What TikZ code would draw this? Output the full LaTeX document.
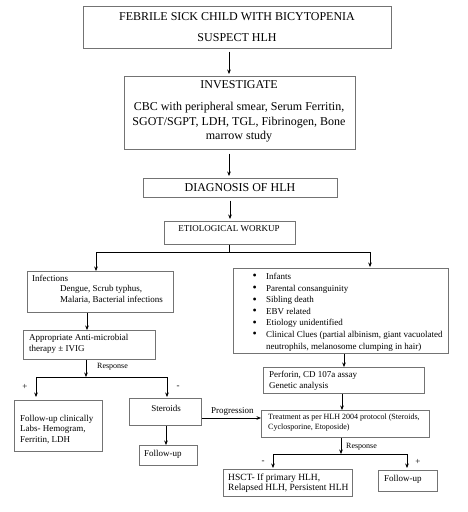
\documentclass[tikz,border=0pt]{standalone}
\usepackage{fontspec}
\setmainfont{Liberation Serif}
\usetikzlibrary{arrows.meta}
\newcommand{\blt}{\makebox[13.5pt][l]{\fontsize{12}{10}\selectfont\raisebox{-0.5pt}{\textbullet}}}
\begin{document}
\begin{tikzpicture}[x=1pt,y=-1pt,
 box/.style={draw=black!55, line width=0.7pt, inner sep=0pt, anchor=north west},
 arr/.style={-{Stealth[length=4.5pt,width=3.6pt]}, line width=0.65pt},
 ln/.style={line width=0.65pt},
 txt/.style={inner sep=0pt, anchor=west, align=left, font=\fontsize{9}{10.5}\selectfont},
 ctxt/.style={inner sep=0pt, anchor=center, align=center, font=\fontsize{9}{10.5}\selectfont},
 big/.style={inner sep=0pt, anchor=center, align=center, font=\fontsize{12}{14.5}\selectfont},
 small/.style={inner sep=0pt, anchor=west, align=left, font=\fontsize{8}{10}\selectfont}]
\useasboundingbox (0,0) rectangle (467,512);
% boxes
\node[box, minimum width=308pt, minimum height=42pt] (b1) at (83,6) {};
\node[box, minimum width=231pt, minimum height=73pt] (b2) at (124,76) {};
\node[box, minimum width=194pt, minimum height=19pt] (b3) at (143,178) {};
\node[box, minimum width=131pt, minimum height=23pt] (b4) at (164,221) {};
\node[box, minimum width=146pt, minimum height=41pt] (inf) at (27,271) {};
\node[box, minimum width=132pt, minimum height=29pt] (anti) at (23,330) {};
\node[box, minimum width=88pt, minimum height=51pt] (fuc) at (14,400) {};
\node[box, minimum width=72pt, minimum height=27pt] (st) at (129,398) {};
\node[box, minimum width=58pt, minimum height=20pt] (fua) at (139,445) {};
\node[box, minimum width=215pt, minimum height=85pt] (rb) at (233,268) {};
\node[box, minimum width=161pt, minimum height=26pt] (pf) at (263,367) {};
\node[box, minimum width=168pt, minimum height=27pt] (tr) at (261,410) {};
\node[box, minimum width=129pt, minimum height=27pt] (hs) at (223,469) {};
\node[box, minimum width=59pt, minimum height=21pt] (fub) at (378,470) {};
% texts
\node[big, font=\fontsize{12}{21}\selectfont] (t1) at (237,27.5) {FEBRILE SICK CHILD WITH BICYTOPENIA\\SUSPECT HLH};
\node[big] (t2) at (239,111.5) {INVESTIGATE\\[7.5pt]CBC with peripheral smear, Serum Ferritin,\\SGOT/SGPT, LDH, TGL, Fibrinogen, Bone\\marrow study};
\node[big] (t3) at (240,188) {DIAGNOSIS OF HLH};
\node[ctxt] (t4) at (229,229) {ETIOLOGICAL WORKUP};
\node[txt] (tinf) at (32,289.5) {Infections\\\hspace*{28pt}Dengue, Scrub typhus,\\\hspace*{28pt}Malaria, Bacterial infections};
\node[txt] (tanti) at (29,344) {Appropriate Anti-microbial\\therapy ± IVIG};
\node[txt] (tfuc) at (20,429.5) {Follow-up clinically\\Labs- Hemogram,\\Ferritin, LDH};
\node[ctxt] (tst) at (166,408) {Steroids};
\node[txt] (tfua) at (144,454) {Follow-up};
\node[small] (r1) at (97,367) {Response};
\node[ctxt] (p1) at (25,387) {+};
\node[ctxt] (m1) at (178,387) {-};
\node[txt] (prog) at (211,411) {Progression};
\node[txt, font=\fontsize{9}{11.6}\selectfont] (trb) at (252.5,312) {\blt Infants\\\blt Parental consanguinity\\\blt Sibling death\\\blt EBV related\\\blt Etiology unidentified\\\blt Clinical Clues (partial albinism, giant vacuolated\\\hspace*{13.5pt}neutrophils, melanosome clumping in hair)};
\node[txt] (tpf) at (269,381) {Perforin, CD 107a assay\\Genetic analysis};
\node[small] (ttr) at (268,423) {Treatment as per HLH 2004 protocol (Steroids,\\Cyclosporine, Etoposide)};
\node[small] (r2) at (346,447) {Response};
\node[ctxt] (m2) at (263,462) {-};
\node[ctxt] (p2) at (418,462) {+};
\node[txt, font=\fontsize{9.5}{10}\selectfont] (ths) at (228,483) {HSCT- If primary HLH,\\Relapsed HLH, Persistent HLH};
\node[txt] (tfub) at (384,479) {Follow-up};
% helper coordinates
\coordinate (xa) at (229,0);
\coordinate (xb) at (230,0);
\coordinate (j1) at (229,252);
\coordinate (xl) at (96,0);
\coordinate (xr) at (370,0);
\coordinate (xc) at (87,0);
\coordinate (j2) at (86,377);
\coordinate (xd) at (36,0);
\coordinate (xe) at (167,0);
\coordinate (xf) at (166,0);
\coordinate (yp) at (0,418);
\coordinate (xg) at (344,0);
\coordinate (xh) at (342,0);
\coordinate (j3) at (341,454);
\coordinate (xi) at (273,0);
\coordinate (xj) at (407,0);
% connectors
\draw[arr, shorten <=3pt, shorten >=2pt] (b1.south -| xa) -- (b2.north -| xa);
\draw[arr, shorten <=4pt, shorten >=2pt] (b2.south -| xa) -- (b3.north -| xa);
\draw[arr, shorten <=3pt, shorten >=2pt] (b3.south -| xb) -- (b4.north -| xb);
\draw[ln] (b4.south -| j1) -- (j1);
\draw[arr] (j1) -| (inf.north -| xl);
\draw[arr, shorten >=1pt] (j1) -| (rb.north -| xr);
\draw[arr] (inf.south -| xc) -- (anti.north -| xc);
\draw[arr] (anti.south -| j2) -- (j2);
\draw[arr, shorten >=3pt] (j2) -| (fuc.north -| xd);
\draw[arr, shorten >=1pt] (j2) -| (st.north -| xe);
\draw[arr] (st.south -| xf) -- (fua.north -| xf);
\draw[arr] (st.east |- yp) -- (tr.west |- yp);
\draw[arr] (rb.south -| xg) -- (pf.north -| xg);
\draw[arr] (pf.south -| xh) -- (tr.north -| xh);
\draw[arr] (tr.south -| j3) -- (j3);
\draw[arr, shorten >=1pt] (j3) -| (hs.north -| xi);
\draw[arr, shorten >=2pt] (j3) -| (fub.north -| xj);
\end{tikzpicture}
\end{document}
